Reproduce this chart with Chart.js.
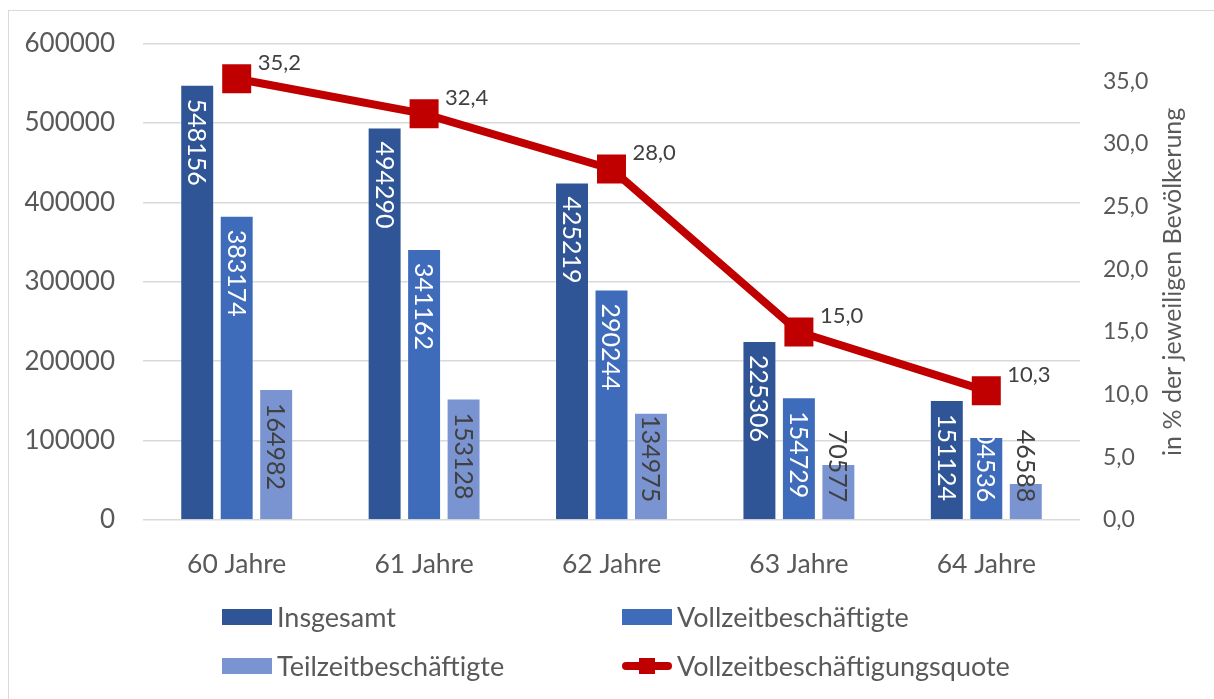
<!DOCTYPE html>
<html>
<head>
<meta charset="utf-8">
<script src="https://cdn.jsdelivr.net/npm/chart.js@4/dist/chart.umd.min.js"></script>
<style>
  html, body { margin: 0; padding: 0; background: #fff; }
  #wrap { width: 1214px; height: 699px; position: relative; }
</style>
</head>
<body>
<div id="wrap"><canvas id="c" width="1214" height="699"></canvas></div>
<script>
const categories = ['60 Jahre', '61 Jahre', '62 Jahre', '63 Jahre', '64 Jahre'];
const insgesamt = [548156, 494290, 425219, 225306, 151124];
const vollzeit = [383174, 341162, 290244, 154729, 104536];
const teilzeit = [164982, 153128, 134975, 70577, 46588];
const quote = [35.2, 32.4, 28.0, 15.0, 10.3];
const seriesNames = ['Insgesamt', 'Vollzeitbeschäftigte', 'Teilzeitbeschäftigte', 'Vollzeitbeschäftigungsquote'];
const rightAxisTitle = 'in % der jeweiligen Bevölkerung';

const FONT = 'Lato, "Open Sans", sans-serif';
const GRAY = '#595959';
const DARK = '#404040';
const colors = ['#2F5597', '#3F6CBA', '#7A93D1', '#C00000'];

const fmtDe = v => v.toFixed(1).replace('.', ',');

// rotated labels inside bars
const barLabels = {
  id: 'barLabels',
  afterDatasetDraw(chart, args) {
    const ds = chart.data.datasets[args.index];
    if (ds.type === 'line') return;
    const ctx = chart.ctx;
    ctx.save();
    ctx.font = '25px ' + FONT;
    ctx.fillStyle = ds.labelColor;
    ctx.textAlign = 'left';
    ctx.textBaseline = 'middle';
    args.meta.data.forEach((el, i) => {
      const text = String(ds.data[i]);
      const w = ctx.measureText(text).width;
      let start = el.y + 14;
      const limit = el.base - 17;
      if (start + w > limit) start = limit - w;
      ctx.save();
      if (ds.clipLabel) {
        ctx.beginPath();
        ctx.rect(el.x - el.width / 2, el.y, el.width, el.base - el.y);
        ctx.clip();
      }
      ctx.translate(el.x, start);
      ctx.rotate(Math.PI / 2);
      ctx.fillText(text, 0, 1);
      ctx.restore();
    });
    ctx.restore();
  }
};

// point labels for the line + axis title + legend + frame
const extras = {
  id: 'extras',
  afterDatasetsDraw(chart) {
    const ctx = chart.ctx;
    chart.data.datasets.forEach((ds, di) => {
      if (ds.type !== 'line') return;
      const meta = chart.getDatasetMeta(di);
      ctx.save();
      ctx.font = '22px ' + FONT;
      ctx.fillStyle = DARK;
      ctx.textAlign = 'left';
      ctx.textBaseline = 'middle';
      meta.data.forEach((el, i) => {
        ctx.fillText(fmtDe(ds.data[i]), el.x + 21, el.y - 16);
      });
      ctx.restore();
    });
  },
  afterDraw(chart) {
    const ctx = chart.ctx;
    const area = chart.chartArea;
    // frame
    ctx.save();
    ctx.strokeStyle = '#D9D9D9';
    ctx.lineWidth = 1;
    ctx.strokeRect(8.5, 10.5, 1400, 900);
    // right axis title
    ctx.font = '25px ' + FONT;
    ctx.fillStyle = GRAY;
    ctx.textAlign = 'center';
    ctx.textBaseline = 'middle';
    ctx.translate(1173, (area.top + area.bottom) / 2);
    ctx.rotate(-Math.PI / 2);
    ctx.fillText(rightAxisTitle, 0, 0);
    ctx.restore();
    // legend (2 columns)
    ctx.save();
    ctx.font = '27px ' + FONT;
    ctx.textAlign = 'left';
    ctx.textBaseline = 'middle';
    const colX = [222, 622];
    const rowY = [617, 666];
    chart.data.datasets.forEach((ds, i) => {
      const x = colX[i % 2];
      const y = rowY[Math.floor(i / 2)];
      if (ds.type === 'line') {
        ctx.strokeStyle = ds.borderColor;
        ctx.lineWidth = 8;
        ctx.lineCap = 'round';
        ctx.beginPath();
        ctx.moveTo(x + 4, y);
        ctx.lineTo(x + 46, y);
        ctx.stroke();
        ctx.fillStyle = ds.borderColor;
        ctx.fillRect(x + 17, y - 8, 16, 16);
      } else {
        ctx.fillStyle = ds.backgroundColor;
        ctx.fillRect(x, y - 8, 50, 16);
      }
      ctx.fillStyle = GRAY;
      ctx.fillText(ds.label, x + 55, y + 1);
    });
    ctx.restore();
  }
};

const chart = new Chart(document.getElementById('c'), {
  data: {
    labels: categories,
    datasets: [
      { type: 'bar', label: seriesNames[0], data: insgesamt, backgroundColor: colors[0], yAxisID: 'y', order: 1, labelColor: '#FFFFFF', clipLabel: true,
        borderColor: 'rgba(255,255,255,0.25)', borderWidth: 1 },
      { type: 'bar', label: seriesNames[1], data: vollzeit, backgroundColor: colors[1], yAxisID: 'y', order: 1, labelColor: '#FFFFFF', clipLabel: true,
        borderColor: 'rgba(255,255,255,0.25)', borderWidth: 1 },
      { type: 'bar', label: seriesNames[2], data: teilzeit, backgroundColor: colors[2], yAxisID: 'y', order: 1, labelColor: DARK, clipLabel: false,
        borderColor: 'rgba(255,255,255,0.25)', borderWidth: 1 },
      { type: 'line', label: seriesNames[3], data: quote, borderColor: colors[3], backgroundColor: colors[3], yAxisID: 'y1', order: 0,
        borderWidth: 8, pointStyle: 'rect', pointRadius: 20.5, pointHoverRadius: 20.5, pointBorderWidth: 0, pointBackgroundColor: colors[3],
        tension: 0, borderJoinStyle: 'miter' }
    ]
  },
  options: {
    responsive: false,
    animation: false,
    devicePixelRatio: 1,
    layout: { padding: { top: 42, left: 0, right: 0, bottom: 119 } },
    datasets: { bar: { categoryPercentage: 0.632, barPercentage: 0.86 } },
    plugins: { legend: { display: false }, tooltip: { enabled: false } },
    scales: {
      x: {
        grid: { display: false },
        border: { display: false },
        ticks: { font: { family: FONT, size: 26.5 }, color: GRAY, padding: 21, maxRotation: 0 },
        afterFit(s) { s.height = 60; }
      },
      y: {
        position: 'left',
        min: 0, max: 600000,
        grid: { color: '#D9D9D9', lineWidth: 1.5, drawTicks: false },
        border: { display: false },
        ticks: { stepSize: 100000, font: { family: FONT, size: 26 }, color: GRAY, padding: 28, callback: v => String(v) },
        afterFit(s) { s.width = 143; }
      },
      y1: {
        position: 'right',
        min: 0, max: 38,
        grid: { display: false, drawTicks: false },
        border: { display: false },
        ticks: { stepSize: 5, includeBounds: false, font: { family: FONT, size: 23 }, color: GRAY, padding: 23, callback: v => fmtDe(v) },
        afterFit(s) { s.width = 134; }
      }
    }
  },
  plugins: [barLabels, extras]
});
</script>
</body>
</html>
